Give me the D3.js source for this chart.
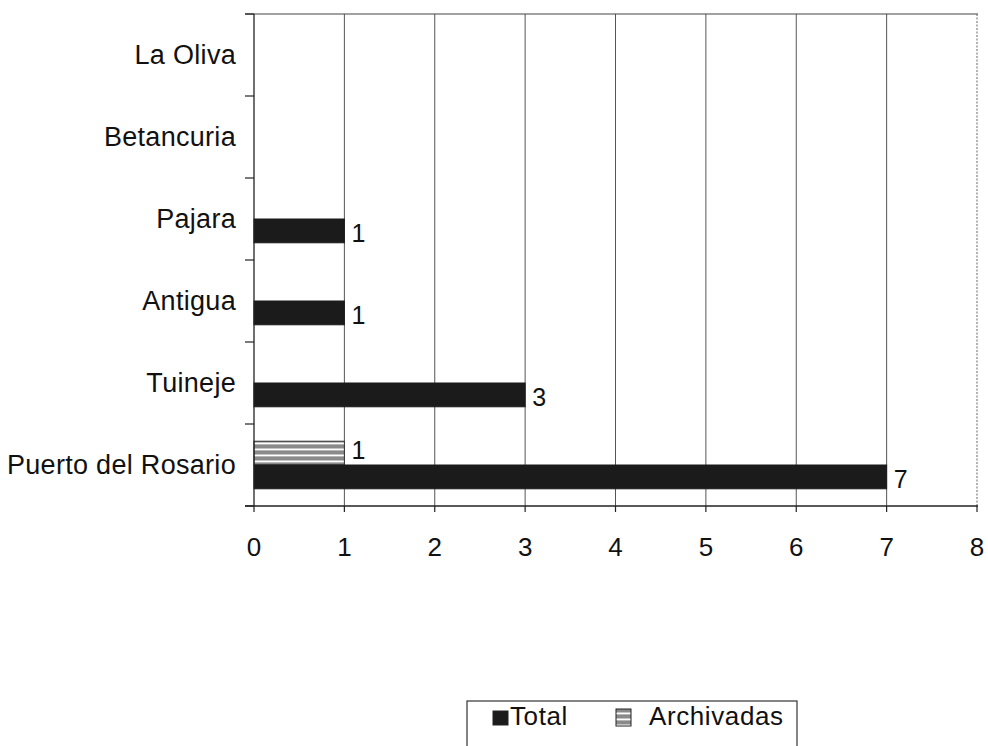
<!DOCTYPE html>
<html>
<head>
<meta charset="utf-8">
<script src="https://cdn.jsdelivr.net/npm/d3@7"></script>
<style>
  html, body { margin: 0; padding: 0; background: #fff; }
  svg { display: block; }
  text { font-family: "Liberation Sans", Arial, sans-serif; fill: #111; }
</style>
</head>
<body>
<svg id="chart" width="988" height="746"></svg>
<script>
// Municipalities (bottom to top) and their counts
const categories = ["Puerto del Rosario", "Tuineje", "Antigua", "Pajara", "Betancuria", "La Oliva"];
const total = [7, 3, 1, 1, null, null];
const archivadas = [1, null, null, null, null, null];
const xTicks = [0, 1, 2, 3, 4, 5, 6, 7, 8];
const seriesNames = ["Total", "Archivadas"];

const svg = d3.select("#chart");
const margin = { left: 254, right: 11, top: 14, bottom: 240 };
const W = 988, H = 746;

const x = d3.scaleLinear().domain([0, 8]).range([margin.left, W - margin.right]);
const y = d3.scaleBand()
  .domain(categories.slice().reverse())
  .range([margin.top, H - margin.bottom])
  .padding(0);
const bw = y.bandwidth();
const sub = d3.scaleBand()
  .domain(["Archivadas", "Total"])
  .range([bw * 0.21, bw * 0.79])
  .padding(0);

// hatch pattern for the "Archivadas" series: grey with thin white rules
const defs = svg.append("defs");
const pat = defs.append("pattern")
  .attr("id", "hatch")
  .attr("patternUnits", "userSpaceOnUse")
  .attr("width", 8).attr("height", 6);
pat.append("rect").attr("width", 8).attr("height", 6).attr("fill", "#8a8a8a");
pat.append("rect").attr("y", 0).attr("width", 8).attr("height", 1).attr("fill", "#b5b5b5");
pat.append("rect").attr("y", 4.5).attr("width", 8).attr("height", 1.5).attr("fill", "#fff");

const x0 = x(0), x8 = x(8), yTop = y.range()[0], yBot = y.range()[1];

// vertical gridlines
svg.append("g").selectAll("line")
  .data(xTicks.filter(t => t > 0 && t < 8))
  .join("line")
  .attr("x1", d => x(d)).attr("x2", d => x(d))
  .attr("y1", yTop).attr("y2", yBot)
  .attr("stroke", "#555").attr("stroke-width", 1);

// plot frame: top edge and dotted right edge
svg.append("line")
  .attr("x1", x0 - 9).attr("x2", x8 + 1)
  .attr("y1", yTop).attr("y2", yTop)
  .attr("stroke", "#444").attr("stroke-width", 1.2);
svg.append("line")
  .attr("x1", x8).attr("x2", x8)
  .attr("y1", yTop).attr("y2", yBot)
  .attr("stroke", "#666").attr("stroke-width", 1)
  .attr("stroke-dasharray", "2,1.5");

// bars
const rows = categories.map((c, i) => ({ c, Total: total[i], Archivadas: archivadas[i] }));
const barData = [];
rows.forEach(r => {
  ["Archivadas", "Total"].forEach(s => {
    if (r[s] != null) barData.push({ c: r.c, s, v: r[s] });
  });
});

svg.append("g").selectAll("rect")
  .data(barData)
  .join("rect")
  .attr("x", x0)
  .attr("y", d => y(d.c) + sub(d.s))
  .attr("width", d => x(d.v) - x0)
  .attr("height", sub.bandwidth())
  .attr("fill", d => d.s === "Total" ? "#1b1b1b" : "url(#hatch)")
  .attr("stroke", d => d.s === "Total" ? "#1b1b1b" : "#333")
  .attr("stroke-width", 1);

// value labels
svg.append("g").selectAll("text")
  .data(barData)
  .join("text")
  .attr("x", d => x(d.v) + 7)
  .attr("y", d => y(d.c) + sub(d.s) + sub.bandwidth() / 2 + (d.s === "Total" ? 2 : -3))
  .attr("dominant-baseline", "central")
  .attr("font-size", 25)
  .text(d => d.v);

// y axis
svg.append("line")
  .attr("x1", x0).attr("x2", x0).attr("y1", yTop).attr("y2", yBot)
  .attr("stroke", "#222").attr("stroke-width", 1.3);
const yEdges = categories.map(c => y(c)).concat([yBot]);
svg.append("g").selectAll("line")
  .data(yEdges)
  .join("line")
  .attr("x1", x0 - 9).attr("x2", x0)
  .attr("y1", d => d).attr("y2", d => d)
  .attr("stroke", "#222").attr("stroke-width", 1.2);
svg.append("g").selectAll("text")
  .data(categories)
  .join("text")
  .attr("x", x0 - 18)
  .attr("y", d => y(d) + bw / 2)
  .attr("text-anchor", "end")
  .attr("dominant-baseline", "central")
  .attr("font-size", 27)
  .attr("letter-spacing", 0.3)
  .text(d => d);

// x axis
svg.append("line")
  .attr("x1", x0 - 9).attr("x2", x8 + 1).attr("y1", yBot).attr("y2", yBot)
  .attr("stroke", "#222").attr("stroke-width", 1.3);
svg.append("g").selectAll("line")
  .data(xTicks)
  .join("line")
  .attr("x1", d => x(d)).attr("x2", d => x(d))
  .attr("y1", yBot).attr("y2", yBot + 6)
  .attr("stroke", "#222").attr("stroke-width", 1.2);
svg.append("g").selectAll("text")
  .data(xTicks)
  .join("text")
  .attr("x", d => x(d))
  .attr("y", yBot + 41)
  .attr("text-anchor", "middle")
  .attr("dominant-baseline", "central")
  .attr("font-size", 26)
  .text(d => d);

// legend
const lg = svg.append("g");
lg.append("rect")
  .attr("x", 467).attr("y", 701).attr("width", 330).attr("height", 60)
  .attr("fill", "none").attr("stroke", "#333").attr("stroke-width", 1.2);
const legendItems = [
  { name: seriesNames[0], sx: 493, sy: 711, sw: 15, sh: 14, tx: 510, fill: "#1b1b1b" },
  { name: seriesNames[1], sx: 616, sy: 709, sw: 15, sh: 17, tx: 649, fill: "url(#hatch)" }
];
legendItems.forEach(it => {
  lg.append("rect")
    .attr("x", it.sx).attr("y", it.sy).attr("width", it.sw).attr("height", it.sh)
    .attr("fill", it.fill).attr("stroke", "#222").attr("stroke-width", 1);
  lg.append("text")
    .attr("x", it.tx).attr("y", 716)
    .attr("dominant-baseline", "central")
    .attr("font-size", 26)
    .attr("letter-spacing", 0.6)
    .text(it.name);
});
</script>
</body>
</html>
